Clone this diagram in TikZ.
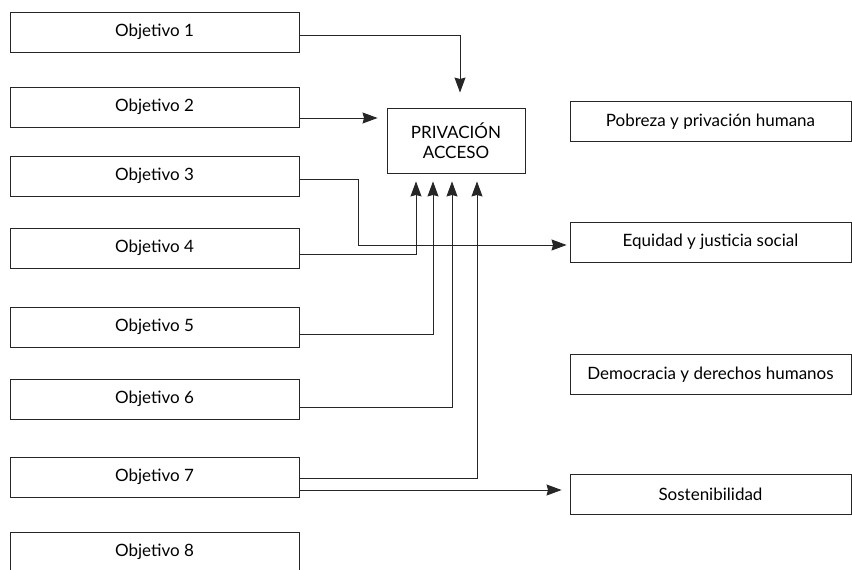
\documentclass[tikz,border=0pt]{standalone}
\usepackage{fontspec}
\setmainfont{Lato}
\usetikzlibrary{arrows.meta, positioning, calc}

\begin{document}
\begin{tikzpicture}[
        x=1pt, y=-1pt,
        obj/.style={rectangle, draw=black!85, line width=0.9pt, minimum width=289pt, minimum height=40pt, inner sep=0pt, font=\fontsize{17}{20}\selectfont},
        dim/.style={rectangle, draw=black!85, line width=0.9pt, minimum width=281pt, minimum height=40pt, inner sep=0pt, font=\fontsize{17}{20}\selectfont},
        hub/.style={rectangle, draw=black!85, line width=0.9pt, minimum width=138pt, minimum height=65pt, align=center, font=\fontsize{17}{20}\selectfont},
        link/.style={line width=0.9pt, draw=black!85},
        arr/.style={-{Stealth[length=15pt, width=11pt, inset=1.5pt]}, line width=0.9pt, draw=black!85}
    ]
        \clip (0,0) rectangle (852,570);
        \node[obj] (obj1) at (154.5, 32) {Objetivo 1};
        \node[obj] (obj2) at (154.5, 107) {Objetivo 2};
        \node[obj] (obj3) at (154.5, 176) {Objetivo 3};
        \node[obj] (obj4) at (154.5, 248) {Objetivo 4};
        \node[obj] (obj5) at (154.5, 327) {Objetivo 5};
        \node[obj] (obj6) at (154.5, 399) {Objetivo 6};
        \node[obj] (obj7) at (154.5, 477) {Objetivo 7};
        \node[obj] (obj8) at (154.5, 552) {Objetivo 8};
        \node[hub] (acceso) at (456, 140.5) {PRIVACIÓN\\ACCESO};
        \node[dim] (pobreza) at (710.5, 121.5) {Pobreza y privación humana};
        \node[dim] (equidad) at (710.5, 242) {Equidad y justicia social};
        \node[dim] (democracia) at (710.5, 374.5) {Democracia y derechos humanos};
        \node[dim] (sosten) at (710.5, 494.5) {Sostenibilidad};
        \coordinate (bend3) at (358, 245);
        \draw[arr, shorten >=15pt] ([yshift=-3pt]obj1.east) -| ([xshift=4pt]acceso.north);
        \draw[arr, shorten >=9pt] ([yshift=-11pt]obj2.east) -- ([yshift=-11pt]obj2.east -| acceso.west);
        \draw[arr, shorten >=3pt] ([yshift=-3pt]obj3.east) -| (bend3) -- (bend3 -| equidad.west);
        \draw[arr, shorten >=8pt] ([yshift=-6pt]obj4.east) -| ([xshift=-40pt]acceso.south);
        \draw[arr, shorten >=8pt] ([yshift=-7pt]obj5.east) -| ([xshift=-23pt]acceso.south);
        \draw[arr, shorten >=8pt] ([yshift=-8pt]obj6.east) -| ([xshift=-4pt]acceso.south);
        \draw[arr, shorten >=8pt] ([yshift=-1pt]obj7.east) -| ([xshift=21pt]acceso.south);
        \draw[arr, shorten >=8pt] ([yshift=-13pt]obj7.east) -- ([yshift=-13pt]obj7.east -| sosten.west);
    \end{tikzpicture}
\end{document}
